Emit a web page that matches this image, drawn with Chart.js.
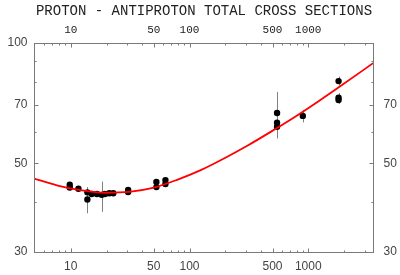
<!DOCTYPE html>
<html>
<head>
<meta charset="utf-8">
<script src="https://cdn.jsdelivr.net/npm/chart.js@4.4.1/dist/chart.umd.min.js"></script>
<style>
  html, body { margin: 0; padding: 0; background: #fff; }
</style>
</head>
<body>
<canvas id="chart" width="400" height="275"></canvas>
<script>
// measured points: sqrt(s) in GeV, total cross section in mb
const energy = [9.8, 9.8, 11.6, 13.8, 13.8, 15, 16.6, 18.2, 19.4, 21.1, 22.8, 30.4, 30.4, 52.6, 52.6, 62.7, 62.7, 546, 546, 546, 900, 1800, 1800, 1800];
const sigma  = [44.2, 43.5, 43.2, 42.3, 40.6, 41.9, 41.9, 41.7, 41.9, 42.1, 42.1, 42.9, 42.4, 44.9, 43.6, 45.4, 44.4, 66.8, 63.2, 61.7, 65.7, 80.3, 73.0, 72.0];
const errLow  = [43.8, 43.1, 42.8, 41.9, 37.5, 41.5, 41.5, 37.8, 41.5, 41.7, 41.7, 42.5, 42.0, 44.5, 43.2, 45.0, 44.0, 57.7, 62.6, 61.1, 63.3, 78.2, 70.5, 70.5];
const errHigh = [44.6, 43.9, 43.6, 42.7, 43.6, 42.3, 42.3, 45.0, 42.3, 42.5, 42.5, 43.3, 42.8, 45.3, 44.0, 45.8, 44.8, 75.4, 63.8, 62.3, 68.0, 82.4, 74.9, 74.9];

// fitted curve
const fitEnergy = [4.9, 7.76, 12.3, 19.5, 30.9, 49.0, 77.6, 123, 195, 309, 490, 776, 1230, 1950, 3510];
const fitSigma  = [45.8, 44.0, 42.8, 42.2, 42.4, 43.4, 45.4, 48.0, 51.4, 55.4, 60.1, 65.4, 71.6, 78.7, 89.0];

// ticks
const xMajor = [10, 50, 100, 500, 1000];
const xMinor = [6, 7, 8, 9, 20, 30, 40, 60, 70, 80, 90, 200, 300, 400, 600, 700, 800, 900, 2000, 3000];
const yMajor = [30, 50, 70, 100];
const yRight = [30, 50, 70];
const yMinor = [40, 60, 80, 90];

const title = 'PROTON - ANTIPROTON TOTAL CROSS SECTIONS';

const errorBars = {
  id: 'errorBars',
  beforeDatasetsDraw(chart) {
    const { ctx, scales: { x, y } } = chart;
    ctx.save();
    ctx.strokeStyle = '#808080';
    ctx.lineWidth = 1;
    energy.forEach((e, i) => {
      const px = Math.round(x.getPixelForValue(e)) + 0.5;
      ctx.beginPath();
      ctx.moveTo(px, y.getPixelForValue(errLow[i]));
      ctx.lineTo(px, y.getPixelForValue(errHigh[i]));
      ctx.stroke();
    });
    ctx.restore();
  }
};

const frame = {
  id: 'frame',
  afterDraw(chart) {
    const { ctx, chartArea: a, scales: { x, y } } = chart;
    const L = Math.round(a.left) + 0.5, R = Math.round(a.right) + 0.5;
    const T = Math.round(a.top) + 0.5, B = Math.round(a.bottom) + 0.5;
    ctx.save();
    ctx.strokeStyle = '#7a7a7a';
    ctx.lineWidth = 1;
    ctx.strokeRect(L, T, R - L, B - T);

    ctx.beginPath();
    const xt = (v, len) => {
      const px = Math.round(x.getPixelForValue(v)) + 0.5;
      ctx.moveTo(px, B); ctx.lineTo(px, B - len);
      ctx.moveTo(px, T); ctx.lineTo(px, T + len);
    };
    const yt = (v, len) => {
      const py = Math.round(y.getPixelForValue(v)) + 0.5;
      ctx.moveTo(L, py); ctx.lineTo(L + len, py);
      ctx.moveTo(R, py); ctx.lineTo(R - len, py);
    };
    xMajor.forEach(v => xt(v, 4));
    xMinor.forEach(v => xt(v, 2));
    yMajor.forEach(v => yt(v, 4));
    yMinor.forEach(v => yt(v, 2));
    ctx.stroke();

    ctx.fillStyle = '#444';
    ctx.font = '12px "Liberation Sans", Arial, sans-serif';
    ctx.textBaseline = 'middle';
    ctx.textAlign = 'right';
    yMajor.forEach(v => ctx.fillText(String(v), L - 7, y.getPixelForValue(v)));
    ctx.textAlign = 'left';
    yRight.forEach(v => ctx.fillText(String(v), R + 10, y.getPixelForValue(v)));
    ctx.textAlign = 'center';
    xMajor.forEach(v => ctx.fillText(String(v), x.getPixelForValue(v), B + 14));

    ctx.fillStyle = '#222';
    ctx.font = '11px "Liberation Mono", "DejaVu Sans Mono", monospace';
    xMajor.forEach(v => ctx.fillText(String(v), x.getPixelForValue(v), T - 13));
    ctx.font = '14px "Liberation Mono", "DejaVu Sans Mono", monospace';
    ctx.fillText(title, 204, 11);
    ctx.restore();
  }
};

new Chart(document.getElementById('chart').getContext('2d'), {
  type: 'scatter',
  data: {
    datasets: [
      {
        data: fitEnergy.map((e, i) => ({ x: e, y: fitSigma[i] })),
        showLine: true,
        borderColor: '#ff0000',
        borderWidth: 1.8,
        pointRadius: 0,
        cubicInterpolationMode: 'monotone'
      },
      {
        data: energy.map((e, i) => ({ x: e, y: sigma[i] })),
        pointRadius: 3.2,
        pointBackgroundColor: '#000',
        pointBorderWidth: 0,
        showLine: false
      }
    ]
  },
  options: {
    responsive: false,
    animation: false,
    layout: { padding: { left: 34, right: 27, top: 43, bottom: 23 } },
    plugins: { legend: { display: false }, tooltip: { enabled: false } },
    scales: {
      x: { type: 'logarithmic', min: 4.9, max: 3510, display: false },
      y: { type: 'logarithmic', min: 30, max: 100, display: false }
    }
  },
  plugins: [errorBars, frame]
});
</script>
</body>
</html>
